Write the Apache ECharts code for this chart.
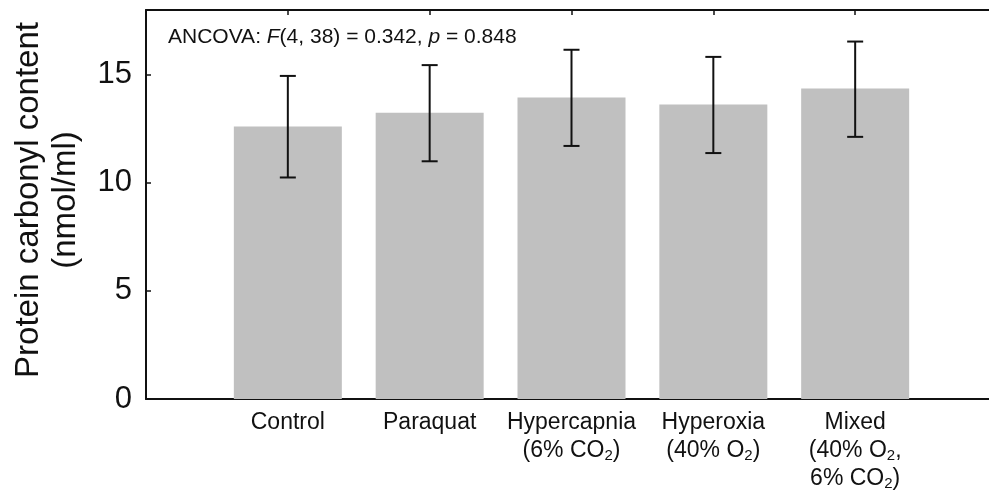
<!DOCTYPE html>
<html>
<head>
<meta charset="utf-8">
<script src="https://cdn.jsdelivr.net/npm/echarts@6/dist/echarts.min.js"></script>
<style>
  html, body { margin: 0; padding: 0; background: #ffffff; }
  #chart { width: 989px; height: 492px; }
</style>
</head>
<body>
<div id="chart"></div>
<script>
// Treatment groups and their axis labels (rich text for the subscripts)
const categories = ['Control', 'Paraquat', 'Hypercapnia', 'Hyperoxia', 'Mixed'];
const categoryLabels = [
  'Control',
  'Paraquat',
  'Hypercapnia\n(6% CO{sub|2})',
  'Hyperoxia\n(40% O{sub|2})',
  'Mixed\n(40% O{sub|2},\n6% CO{sub|2})'
];

// Protein carbonyl content (nmol/ml): group means and error bar limits
const meanValues  = [12.61, 13.24, 13.95, 13.63, 14.37];
const lowerValues = [10.25, 11.00, 11.71, 11.38, 12.13];
const upperValues = [14.95, 15.45, 16.16, 15.83, 16.54];

// Y axis tick labels
const yTickLabels = [0, 5, 10, 15];

const FONT = "'Liberation Sans', Arial, Helvetica, sans-serif";
const INK = '#111111';

// groups sit at positions 1..5 on the horizontal axis
const barData = categories.map((c, i) => [i + 1, meanValues[i]]);
const errData = categories.map((c, i) => [i + 1, lowerValues[i], upperValues[i]]);

function renderErrorBar(params, api) {
  const x = api.value(0);
  const pLo = api.coord([x, api.value(1)]);
  const pHi = api.coord([x, api.value(2)]);
  const half = 8;
  const style = { stroke: INK, lineWidth: 2 };
  return {
    type: 'group',
    children: [
      { type: 'line', shape: { x1: pLo[0], y1: pLo[1], x2: pHi[0], y2: pHi[1] }, style },
      { type: 'line', shape: { x1: pHi[0] - half, y1: pHi[1], x2: pHi[0] + half, y2: pHi[1] }, style },
      { type: 'line', shape: { x1: pLo[0] - half, y1: pLo[1], x2: pLo[0] + half, y2: pLo[1] }, style }
    ]
  };
}

const axisLine = { show: true, lineStyle: { color: INK, width: 2 } };
const axisTick = { show: true, inside: true, length: 5, lineStyle: { color: INK, width: 1.5 } };

const chart = echarts.init(document.getElementById('chart'), null, { renderer: 'canvas' });

chart.setOption({
  animation: false,
  backgroundColor: '#ffffff',
  grid: { left: 146, top: 10, right: -8, bottom: 93, containLabel: false, outerBoundsMode: 'none' },
  xAxis: [
    {
      type: 'value', position: 'bottom', min: 0, max: 6, interval: 1,
      axisLine, axisTick, splitLine: { show: false },
      axisLabel: {
        margin: 10,
        fontFamily: FONT, fontSize: 23, color: INK, lineHeight: 28,
        align: 'center', verticalAlign: 'top',
        formatter: v => (v >= 1 && v <= categories.length && v % 1 === 0) ? categoryLabels[v - 1] : '',
        rich: {
          sub: { fontFamily: FONT, fontSize: 15, color: INK, lineHeight: 28, padding: [10, 0, 0, 0] }
        }
      }
    },
    {
      type: 'value', position: 'top', min: 0, max: 6, interval: 1,
      axisLine, axisTick, splitLine: { show: false }, axisLabel: { show: false }
    }
  ],
  yAxis: {
    type: 'value', min: 0, max: 18, interval: 5,
    axisLine, axisTick, splitLine: { show: false },
    axisLabel: {
      margin: 14, fontFamily: FONT, fontSize: 31, color: INK,
      formatter: v => yTickLabels.indexOf(v) >= 0 ? String(v) : ''
    }
  },
  series: [
    {
      type: 'bar', xAxisIndex: 0, data: barData, barWidth: 108,
      itemStyle: { color: '#c0c0c0' }, silent: true
    },
    {
      type: 'custom', xAxisIndex: 0, data: errData, renderItem: renderErrorBar,
      encode: { x: 0, y: [1, 2] }, z: 5, silent: true
    }
  ],
  graphic: [
    {
      type: 'text', x: 47, y: 200, rotation: Math.PI / 2,
      style: {
        text: 'Protein carbonyl content\n(nmol/ml)',
        align: 'center', verticalAlign: 'middle',
        fontFamily: FONT, fontSize: 33, lineHeight: 37, fill: INK
      }
    },
    {
      type: 'text', x: 168, y: 37,
      style: {
        text: 'ANCOVA: {i|F}(4, 38) = 0.342, {i|p} = 0.848',
        align: 'left', verticalAlign: 'middle',
        fontFamily: FONT, fontSize: 21, fill: INK,
        rich: { i: { fontFamily: FONT, fontSize: 21, fontStyle: 'italic', fill: INK } }
      }
    }
  ]
});
</script>
</body>
</html>
